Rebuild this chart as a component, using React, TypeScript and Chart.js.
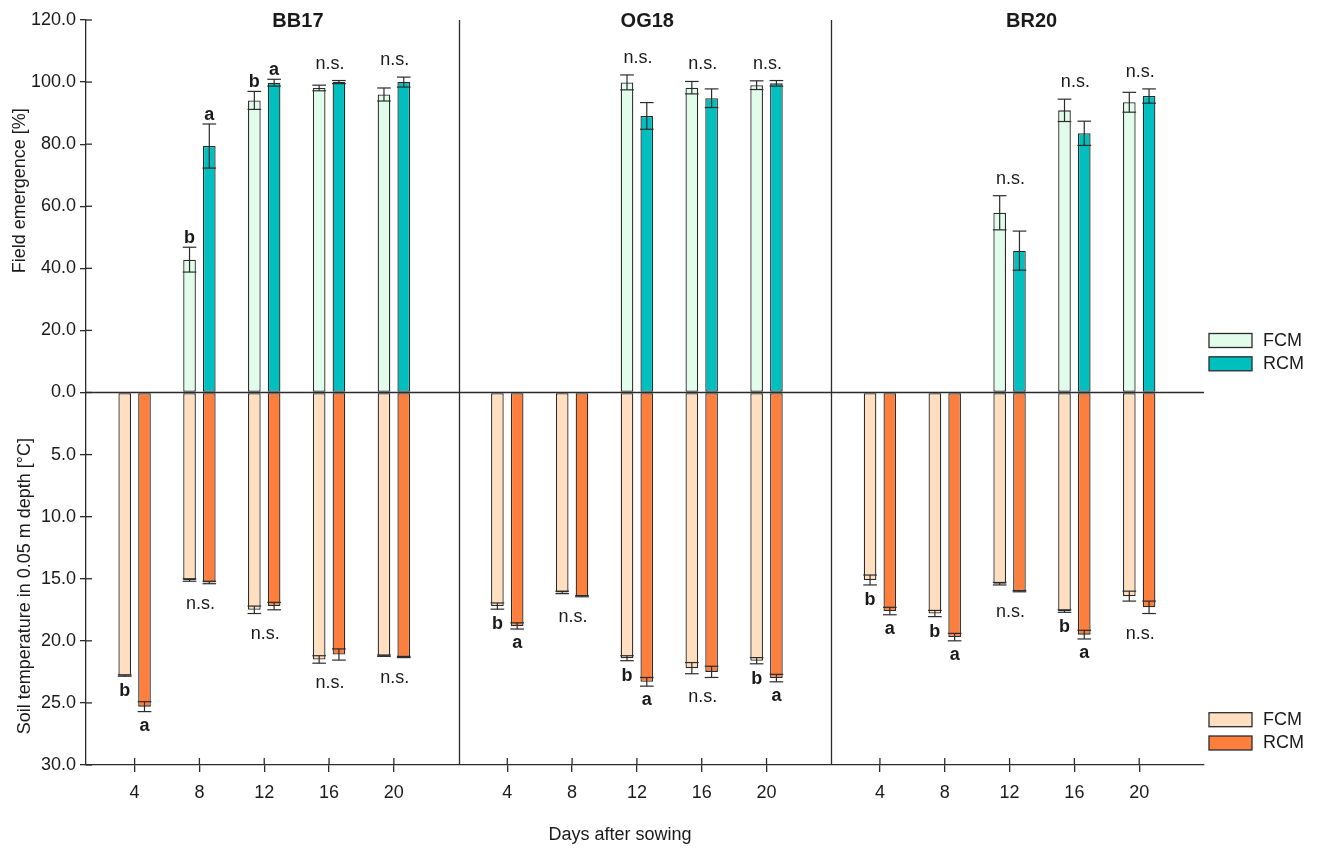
import { useEffect, useRef } from 'react';
import { Chart, registerables } from 'chart.js';

Chart.register(...registerables);

// ---------------- data ----------------
const groups = ['BB17', 'OG18', 'BR20'];
const days = [4, 8, 12, 16, 20];

// Field emergence [%] (15 values: BB17 days 4..20, OG18 days 4..20, BR20 days 4..20)
const emergenceFCM = [null, 42.8, 94.1, 98.1, 96.0, null, null, 99.9, 98.2, 99.0, null, null, 57.9, 90.9, 93.5];
const emergenceFCMErr = [0, 4.0, 2.9, 0.9, 2.1, 0, 0, 2.4, 2.0, 1.4, 0, 0, 5.5, 3.6, 3.2];
const emergenceRCM = [null, 79.4, 99.8, 100.0, 100.0, null, null, 89.1, 94.8, 99.6, null, null, 45.7, 83.5, 95.5];
const emergenceRCMErr = [0, 7.1, 1.1, 0.5, 1.6, 0, 0, 4.3, 3.0, 0.9, 0, 0, 6.3, 3.9, 2.3];

// Soil temperature in 0.05 m depth [°C]
const tempFCM = [22.8, 15.1, 17.5, 21.5, 21.2, 17.2, 16.1, 21.4, 22.2, 21.6, 15.1, 17.8, 15.4, 17.6, 16.4];
const tempFCMErr = [0.05, 0.1, 0.3, 0.3, 0.05, 0.25, 0.1, 0.2, 0.45, 0.25, 0.4, 0.25, 0.1, 0.1, 0.4];
const tempRCM = [25.3, 15.3, 17.2, 21.1, 21.3, 18.8, 16.4, 23.3, 22.5, 23.0, 17.6, 19.7, 16.0, 19.5, 17.3];
const tempRCMErr = [0.4, 0.1, 0.3, 0.45, 0.05, 0.25, 0.05, 0.35, 0.45, 0.3, 0.3, 0.3, 0.05, 0.35, 0.5];

// significance labels: '' none, 'n.s.' over pair, 'x|y' letters for FCM|RCM
const emergenceSig = ['', 'b|a', 'b|a', 'n.s.', 'n.s.', '', '', 'n.s.', 'n.s.', 'n.s.', '', '', 'n.s.', 'n.s.', 'n.s.'];
const tempSig = ['b|a', 'n.s.', 'n.s.', 'n.s.', 'n.s.', 'b|a', 'n.s.', 'b|a', 'n.s.', 'b|a', 'b|a', 'b|a', 'n.s.', 'b|a', 'n.s.'];

const seriesNames = ['FCM', 'RCM'];

// ---------------- layout / style ----------------
const TEMP_SCALE = 4; // 30 °C maps to 120 on the shared axis
const GROUP_SPAN = 5.75;
const FIRST_OFFSET = 0.75;
const TITLE_OFFSETS = [3.27, 2.91, 3.09];
const FONT = '"Liberation Sans", Arial, Helvetica, sans-serif';
const INK = '#2b2b2b';
const TEXT = '#1a1a1a';
const COL_FCM_UP = '#e2fceb';
const COL_RCM_UP = '#00bfbf';
const COL_FCM_DN = '#ffdfbf';
const COL_RCM_DN = '#fd7f3e';

const xPos = (k: number) => Math.floor(k / days.length) * GROUP_SPAN + FIRST_OFFSET + (k % days.length);
const tickPositions = groups.flatMap((_, g) => days.map((_, i) => xPos(g * days.length + i)));
const tickLabels = groups.flatMap(() => days.map((d) => String(d)));

const overlay = {
  id: 'overlay',
  afterDatasetsDraw(chart: any) {
    const ctx = chart.ctx as CanvasRenderingContext2D;
    const { left, right, top, bottom } = chart.chartArea;
    const xs = chart.scales.x;
    const ys = chart.scales.y;
    const line = (x1: number, y1: number, x2: number, y2: number) => {
      ctx.beginPath();
      ctx.moveTo(x1, y1);
      ctx.lineTo(x2, y2);
      ctx.stroke();
    };
    ctx.save();
    ctx.strokeStyle = INK;
    ctx.lineWidth = 1.3;

    // zero line
    const y0 = ys.getPixelForValue(0);
    line(left, y0, right, y0);
    // group separators
    for (let g = 1; g < groups.length; g++) {
      const px = Math.round(xs.getPixelForValue(g * GROUP_SPAN)) + 0.5;
      line(px, top, px, bottom);
    }
    // inner halves of tick marks
    xs.ticks.forEach((t: any) => {
      const px = xs.getPixelForValue(t.value);
      line(px, bottom - 7, px, bottom);
    });
    ys.ticks.forEach((t: any) => {
      const py = ys.getPixelForValue(t.value);
      line(left, py, left + 6, py);
    });

    // error bars
    const errSets = [
      { ds: 0, vals: emergenceFCM, errs: emergenceFCMErr, f: 1 },
      { ds: 1, vals: tempFCM, errs: tempFCMErr, f: -TEMP_SCALE },
      { ds: 2, vals: emergenceRCM, errs: emergenceRCMErr, f: 1 },
      { ds: 3, vals: tempRCM, errs: tempRCMErr, f: -TEMP_SCALE },
    ];
    ctx.lineWidth = 1.2;
    errSets.forEach(({ ds, vals, errs, f }) => {
      const meta = chart.getDatasetMeta(ds);
      vals.forEach((v, k) => {
        if (v == null) return;
        const el = meta.data[k];
        const half = el.width / 2 + 0.5;
        const a = ys.getPixelForValue((v + errs[k]) * f);
        const b = ys.getPixelForValue((v - errs[k]) * f);
        line(el.x, a, el.x, b);
        line(el.x - half, a, el.x + half, a);
        line(el.x - half, b, el.x + half, b);
      });
    });

    // significance labels
    ctx.fillStyle = TEXT;
    ctx.textAlign = 'center';
    ctx.textBaseline = 'alphabetic';
    const mF0 = chart.getDatasetMeta(0);
    const mR0 = chart.getDatasetMeta(2);
    const mF1 = chart.getDatasetMeta(1);
    const mR1 = chart.getDatasetMeta(3);
    emergenceSig.forEach((s, k) => {
      if (!s) return;
      const topF = ys.getPixelForValue((emergenceFCM[k] ?? 0) + emergenceFCMErr[k]);
      const topR = ys.getPixelForValue((emergenceRCM[k] ?? 0) + emergenceRCMErr[k]);
      if (s === 'n.s.') {
        ctx.font = `18px ${FONT}`;
        const cx = (mF0.data[k].x + mR0.data[k].x) / 2;
        ctx.fillText(s, cx + 1, Math.min(topF, topR) - 12);
      } else {
        const [lf, lr] = s.split('|');
        ctx.font = `bold 18px ${FONT}`;
        ctx.fillText(lf, mF0.data[k].x, topF - 4);
        ctx.fillText(lr, mR0.data[k].x, topR - 4);
      }
    });
    tempSig.forEach((s, k) => {
      if (!s) return;
      const botF = ys.getPixelForValue(-(tempFCM[k] + tempFCMErr[k]) * TEMP_SCALE);
      const botR = ys.getPixelForValue(-(tempRCM[k] + tempRCMErr[k]) * TEMP_SCALE);
      if (s === 'n.s.') {
        ctx.font = `18px ${FONT}`;
        const cx = (mF1.data[k].x + mR1.data[k].x) / 2;
        ctx.fillText(s, cx + 1, Math.max(botF, botR) + 25);
      } else {
        const [lf, lr] = s.split('|');
        ctx.font = `bold 18px ${FONT}`;
        ctx.fillText(lf, mF1.data[k].x, botF + 20);
        ctx.fillText(lr, mR1.data[k].x, botR + 19);
      }
    });

    // group titles
    ctx.font = `bold 20px ${FONT}`;
    ctx.textBaseline = 'middle';
    groups.forEach((g, i) => {
      ctx.fillText(g, xs.getPixelForValue(i * GROUP_SPAN + TITLE_OFFSETS[i]), top + 1);
    });

    // axis titles
    ctx.font = `18px ${FONT}`;
    ctx.fillText('Days after sowing', 620, 835);
    const vtitle = (txt: string, x: number, y: number) => {
      ctx.save();
      ctx.translate(x, y);
      ctx.rotate(-Math.PI / 2);
      ctx.fillText(txt, 0, 0);
      ctx.restore();
    };
    vtitle('Field emergence [%]', 20, ys.getPixelForValue(65));
    vtitle('Soil temperature in 0.05 m depth [°C]', 25, ys.getPixelForValue(-15.6 * TEMP_SCALE));

    // legends
    const legend = (cols: string[], yStart: number) => {
      cols.forEach((c, i) => {
        const yy = yStart + i * 23.3;
        ctx.fillStyle = c;
        ctx.fillRect(1209, yy, 43, 14);
        ctx.strokeStyle = INK;
        ctx.lineWidth = 1.3;
        ctx.strokeRect(1209, yy, 43, 14);
        ctx.fillStyle = TEXT;
        ctx.textAlign = 'left';
        ctx.textBaseline = 'middle';
        ctx.font = `18px ${FONT}`;
        ctx.fillText(seriesNames[i], 1263, yy + 7.5);
      });
    };
    legend([COL_FCM_UP, COL_RCM_UP], 333.5);
    legend([COL_FCM_DN, COL_RCM_DN], 712.7);

    ctx.restore();
  },
};

export default function App() {
  const ref = useRef<HTMLCanvasElement>(null);

  useEffect(() => {
    if (!ref.current) return;
    const mk = (vals: (number | null)[], f: number) =>
      vals.map((v, k) => ({ x: xPos(k), y: v == null ? null : v * f }));
    const common = { borderColor: INK, borderWidth: 1.3, borderSkipped: false as const };
    const chart = new Chart(ref.current, {
      type: 'bar',
      data: {
        datasets: [
          { label: 'FCM emergence', data: mk(emergenceFCM, 1), stack: 'F', backgroundColor: COL_FCM_UP, ...common },
          { label: 'FCM temperature', data: mk(tempFCM, -TEMP_SCALE), stack: 'F', backgroundColor: COL_FCM_DN, ...common },
          { label: 'RCM emergence', data: mk(emergenceRCM, 1), stack: 'R', backgroundColor: COL_RCM_UP, ...common },
          { label: 'RCM temperature', data: mk(tempRCM, -TEMP_SCALE), stack: 'R', backgroundColor: COL_RCM_DN, ...common },
        ] as any,
      },
      options: {
        responsive: false,
        animation: false,
        categoryPercentage: 0.61,
        barPercentage: 0.64,
        layout: { padding: { top: 20, right: 113, left: 0, bottom: 0 } },
        plugins: { legend: { display: false }, tooltip: { enabled: false } },
        scales: {
          x: {
            type: 'linear',
            offset: false,
            min: 0,
            max: GROUP_SPAN * groups.length,
            afterBuildTicks: (scale: any) => {
              scale.ticks = tickPositions.map((v) => ({ value: v }));
            },
            afterFit: (scale: any) => {
              scale.height = 83;
            },
            ticks: {
              autoSkip: false,
              maxRotation: 0,
              padding: 10,
              color: TEXT,
              font: { family: FONT, size: 18 },
              callback: (_v: any, i: number) => tickLabels[i],
            },
            grid: { display: true, drawOnChartArea: false, drawTicks: true, tickLength: 7, color: INK, lineWidth: 1.3, offset: false },
            border: { display: true, color: INK, width: 1.3 },
          },
          y: {
            type: 'linear',
            stacked: true,
            min: -120,
            max: 120,
            afterFit: (scale: any) => {
              scale.width = 86;
            },
            ticks: {
              stepSize: 20,
              padding: 4,
              color: TEXT,
              font: { family: FONT, size: 18 },
              callback: (v: any) => (v >= 0 ? Number(v).toFixed(1) : (-v / TEMP_SCALE).toFixed(1)),
            },
            grid: { display: true, drawOnChartArea: false, drawTicks: true, tickLength: 6, color: INK, lineWidth: 1.3 },
            border: { display: true, color: INK, width: 1.3 },
          },
        },
      } as any,
      plugins: [overlay],
    });
    return () => chart.destroy();
  }, []);

  return (
    <div style={{ position: 'fixed', left: 0, top: 0, width: 1317, height: 848, background: '#fff' }}>
      <canvas ref={ref} width={1317} height={848} style={{ display: 'block' }} />
    </div>
  );
}
